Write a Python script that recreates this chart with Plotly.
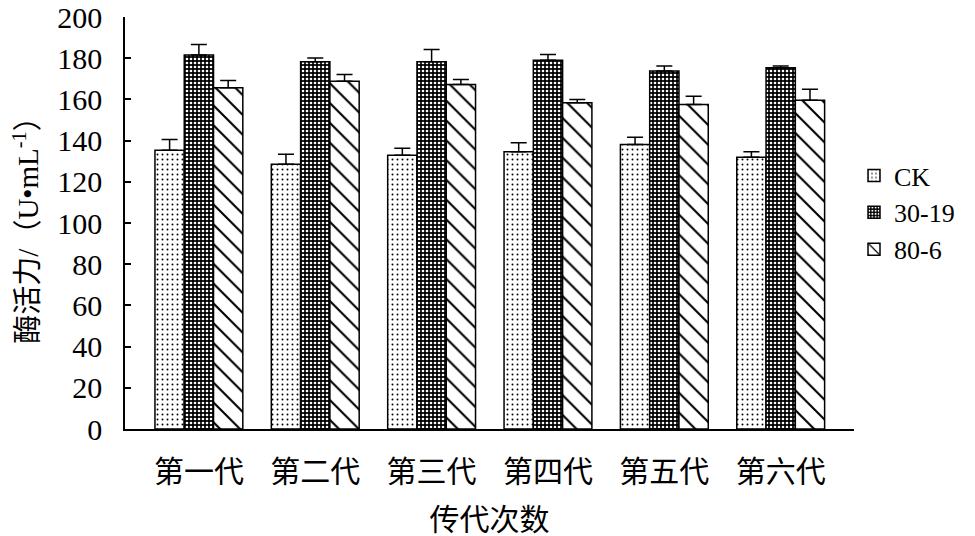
import plotly.graph_objects as go

generations = ["第一代", "第二代", "第三代", "第四代", "第五代", "第六代"]
series_names = ["CK", "30-19", "80-6"]
ck_vals = [135.4, 128.5, 132.9, 134.6, 138.2, 132.0]
ck_err = [5.2, 4.9, 3.4, 4.4, 3.5, 2.6]
s3019_vals = [181.6, 178.3, 178.3, 179.0, 173.8, 175.4]
s3019_err = [5.1, 1.9, 6.0, 2.9, 2.4, 0.8]
s806_vals = [165.7, 168.9, 167.3, 158.4, 157.6, 159.6]
s806_err = [3.5, 3.2, 2.4, 1.6, 4.0, 5.4]
y_ticks = [0, 20, 40, 60, 80, 100, 120, 140, 160, 180, 200]

FONT = "Liberation Serif, Noto Sans CJK SC, serif"

patterns = [
    dict(shape=".", bgcolor="white", fgcolor="black", size=5, solidity=0.12, fillmode="replace"),
    dict(shape=".", bgcolor="black", fgcolor="white", size=4, solidity=0.35, fillmode="replace"),
    dict(shape="\\", bgcolor="white", fgcolor="black", size=14, solidity=0.15, fillmode="replace"),
]

fig = go.Figure()
for name, vals, errs, pat in zip(series_names, [ck_vals, s3019_vals, s806_vals],
                                 [ck_err, s3019_err, s806_err], patterns):
    fig.add_trace(go.Bar(
        x=generations, y=vals, name=name,
        marker=dict(color="white", line=dict(color="black", width=1.5), pattern=pat),
        error_y=dict(type="data", array=errs, arrayminus=[0] * len(errs), symmetric=False,
                     color="black", thickness=1.5, width=8),
    ))

fig.update_layout(
    width=967, height=528,
    margin=dict(l=117, r=121, t=9, b=107),
    paper_bgcolor="white", plot_bgcolor="white",
    barmode="group", bargap=0.245, bargroupgap=0,
    font=dict(family=FONT, size=30, color="black"),
    showlegend=True,
    legend=dict(x=1.0, y=0.672, xanchor="left", yanchor="top",
                font=dict(family=FONT, size=26, color="black"),
                tracegroupgap=0, itemwidth=30, bgcolor="rgba(0,0,0,0)"),
)
fig.update_xaxes(
    range=[-0.635, 5.63], showline=True, linecolor="black", linewidth=1.5,
    ticks="", showgrid=False, zeroline=False, automargin=False,
    tickfont=dict(family=FONT, size=30), ticklabelstandoff=15,
    title=dict(text="传代次数", font=dict(family=FONT, size=30), standoff=24),
)
fig.update_yaxes(
    range=[0, 200.05], tickvals=y_ticks, showline=True, linecolor="black", linewidth=1.5,
    ticks="inside", ticklen=6, tickcolor="black", tickwidth=1.5,
    showgrid=False, zeroline=False, automargin=False, ticklabeloverflow="allow",
    tickfont=dict(family=FONT, size=30), ticklabelstandoff=15,
    title=dict(text="酶活力/（U•mL<sup>-1</sup>）", font=dict(family=FONT, size=29)),
)

fig.write_html("out.html")
